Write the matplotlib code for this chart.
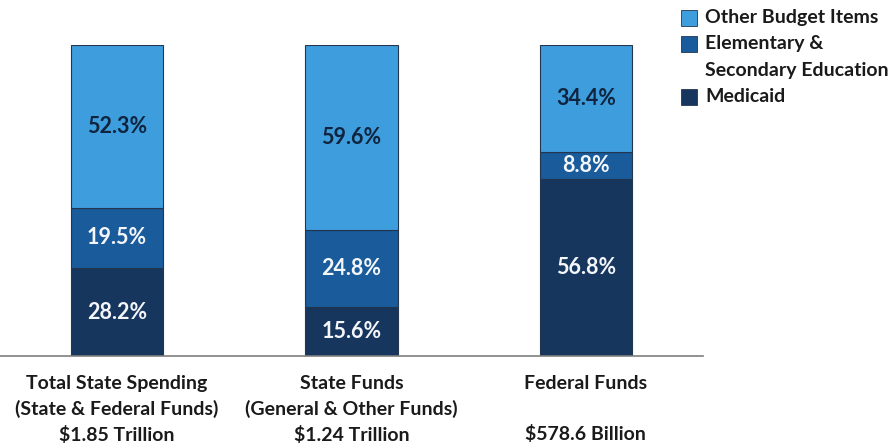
import matplotlib.pyplot as plt
from matplotlib.patches import Rectangle
import numpy as np

# Share of spending by category (percent)
categories = ["Total State Spending\n(State & Federal Funds)\n$1.85 Trillion",
              "State Funds\n(General & Other Funds)\n$1.24 Trillion",
              "Federal Funds\n\n$578.6 Billion"]
medicaid = [28.2, 15.6, 56.8]
education = [19.5, 24.8, 8.8]
other = [52.3, 59.6, 34.4]

colors = ["#17365e", "#195b9b", "#3e9ddc"]
text_colors = ["#f4f6fa", "#f4f6fa", "#10243f"]

plt.rcParams['font.family'] = ['Lato', 'DejaVu Sans']

W, H = 889, 446
fig = plt.figure(figsize=(W / 100, H / 100), dpi=100)
ax = fig.add_axes([0.0, (H - 356) / H, 703 / W, 311 / H])

x = np.arange(len(categories))
width = 0.395
bottom = np.zeros(len(categories))
for vals, col, tcol in zip([medicaid, education, other], colors, text_colors):
    bars = ax.bar(x, vals, width, bottom=bottom, color=col, edgecolor="#24364d", linewidth=0.8)
    for rect, v, b in zip(bars, vals, bottom):
        ax.text(rect.get_x() + rect.get_width() / 2, b + v / 2, f"{v:.1f}%",
                ha="center", va="center", color=tcol, fontsize=15.5, fontweight="bold")
    bottom += np.array(vals)

ax.set_xlim(-0.5, 2.5)
ax.set_ylim(0, 100)
for s in ["top", "right", "left"]:
    ax.spines[s].set_visible(False)
ax.spines["bottom"].set_color("#7f7f7f")
ax.spines["bottom"].set_linewidth(1.2)
ax.set_yticks([])
ax.set_xticks(x)
ax.set_xticklabels(categories, fontsize=14, fontweight="bold", color="#1a1a1a",
                   linespacing=1.52)
ax.tick_params(axis="x", length=0, pad=14)

# legend drawn by hand so the square sits next to the first line
legend_rows = [(colors[2], "Other Budget Items", 18),
               (colors[1], "Elementary &\nSecondary Education", 44),
               (colors[0], "Medicaid", 97)]
for col, label, ypx in legend_rows:
    fig.patches.append(Rectangle((681 / W, 1 - (ypx + 8) / H), 16 / W, 16 / H,
                                 transform=fig.transFigure, facecolor=col,
                                 edgecolor="#24364d", linewidth=0.6))
    fig.text(705 / W, 1 - (ypx - 9) / H, label, ha="left", va="top",
             fontsize=14, fontweight="bold", color="#1a1a1a", linespacing=1.7)

fig.savefig("out.png", dpi=100)
